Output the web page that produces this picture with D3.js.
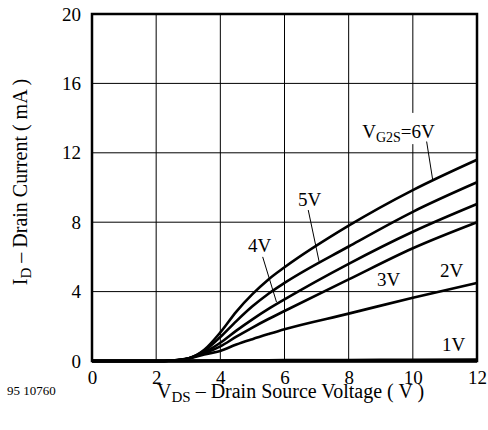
<!DOCTYPE html>
<html lang="en">
<head>
    <meta charset="UTF-8" />
    <title>Drain Current vs Drain Source Voltage</title>
    <style>
        body, html {
            margin: 0;
            padding: 0;
            background-color: white;
        }
    </style>
</head>
<body>
    <svg id="svg" width="488" height="430"></svg>
    <script src="https://cdn.jsdelivr.net/npm/d3@7"></script>
    <script>
        // Data
        const vds = [0, 2, 2.5, 3, 3.5, 4, 4.5, 5, 5.5, 6, 8, 10, 12];
        const id6V = [0, 0, 0.03, 0.15, 0.65, 1.65, 2.85, 3.85, 4.7, 5.4, 7.8, 9.85, 11.6];
        const id5V = [0, 0, 0.03, 0.15, 0.58, 1.38, 2.3, 3.15, 3.88, 4.5, 6.6, 8.6, 10.3];
        const id4V = [0, 0, 0.03, 0.15, 0.5, 1.05, 1.75, 2.4, 3.0, 3.55, 5.6, 7.45, 9.05];
        const id3V = [0, 0, 0.03, 0.15, 0.45, 0.84, 1.4, 1.93, 2.42, 2.88, 4.7, 6.5, 8.0];
        const id2V = [0, 0, 0.03, 0.14, 0.38, 0.58, 0.95, 1.26, 1.55, 1.83, 2.73, 3.65, 4.5];
        const id1V = [0, 0, 0, 0.01, 0.02, 0.03, 0.035, 0.04, 0.045, 0.05, 0.06, 0.07, 0.08];
        const curves = [id6V, id5V, id4V, id3V, id2V, id1V];

        const xTicks = [0, 2, 4, 6, 8, 10, 12];
        const yTicks = [0, 4, 8, 12, 16, 20];

        const FONT = "'Liberation Serif', 'Times New Roman', 'DejaVu Serif', serif";

        // Set dimensions/margins of graph
        const margin = { top: 14, right: 11, bottom: 69, left: 92 };
        const width = 488 - margin.left - margin.right;
        const height = 430 - margin.top - margin.bottom;

        const svg = d3.select("#svg")
            .append("g")
            .attr("transform", `translate(${margin.left},${margin.top})`);

        const xScale = d3.scaleLinear().domain([0, 12]).range([0, width]);
        const yScale = d3.scaleLinear().domain([0, 20]).range([height, 0]);

        // grid
        svg.append("g")
            .selectAll("line")
            .data(xTicks)
            .enter()
            .append("line")
            .attr("x1", d => xScale(d))
            .attr("x2", d => xScale(d))
            .attr("y1", 0)
            .attr("y2", height)
            .attr("stroke", "black")
            .attr("stroke-width", 1);

        svg.append("g")
            .selectAll("line")
            .data(yTicks)
            .enter()
            .append("line")
            .attr("x1", 0)
            .attr("x2", width)
            .attr("y1", d => yScale(d))
            .attr("y2", d => yScale(d))
            .attr("stroke", "black")
            .attr("stroke-width", 1);

        // tick labels
        const xAxis = svg.append("g")
            .attr("transform", `translate(0, ${height})`)
            .call(d3.axisBottom(xScale).tickValues(xTicks).tickSize(0).tickPadding(10).tickFormat(d3.format("d")));
        xAxis.select(".domain").remove();
        xAxis.attr("font-family", FONT).attr("font-size", 19);

        const yAxis = svg.append("g")
            .call(d3.axisLeft(yScale).tickValues(yTicks).tickSize(0).tickPadding(11).tickFormat(d3.format("d")));
        yAxis.select(".domain").remove();
        yAxis.attr("font-family", FONT).attr("font-size", 19);

        // curves
        const line = d3.line()
            .x((d, i) => xScale(vds[i]))
            .y(d => yScale(d))
            .curve(d3.curveMonotoneX);

        svg.append("g")
            .selectAll("path")
            .data(curves)
            .enter()
            .append("path")
            .attr("d", d => line(d))
            .attr("fill", "none")
            .attr("stroke", "black")
            .attr("stroke-width", 2.6);

        // frame
        svg.append("rect")
            .attr("x", 0)
            .attr("y", 0)
            .attr("width", width)
            .attr("height", height)
            .attr("fill", "none")
            .attr("stroke", "black")
            .attr("stroke-width", 2.5);

        svg.append("line")
            .attr("x1", 0)
            .attr("x2", width)
            .attr("y1", height)
            .attr("y2", height)
            .attr("stroke", "black")
            .attr("stroke-width", 3.5);

        // leader lines, in (V, mA)
        const leaders = [
            [10.43, 12.65, 10.62, 10.43],
            [6.74, 8.7, 7.08, 5.72],
            [5.32, 6.0, 5.75, 3.4]
        ];

        // white box behind the VG2S label
        svg.append("rect")
            .attr("x", xScale(8.35))
            .attr("y", yScale(14.3))
            .attr("width", xScale(10.45) - xScale(8.35))
            .attr("height", yScale(12.5) - yScale(14.3))
            .attr("fill", "white");

        svg.append("g")
            .selectAll("line")
            .data(leaders)
            .enter()
            .append("line")
            .attr("x1", d => xScale(d[0]))
            .attr("y1", d => yScale(d[1]))
            .attr("x2", d => xScale(d[2]))
            .attr("y2", d => yScale(d[3]))
            .attr("stroke", "black")
            .attr("stroke-width", 1);

        const g2s = svg.append("text")
            .attr("x", xScale(8.42))
            .attr("y", yScale(12.85))
            .style("font-family", FONT)
            .style("font-size", "19px");
        g2s.append("tspan").text("V");
        g2s.append("tspan").attr("dy", 4).style("font-size", "14px").text("G2S");
        g2s.append("tspan").attr("dy", -4).text("=6V");

        const labels = [
            ["5V", 6.42, 8.93],
            ["4V", 4.86, 6.3],
            ["3V", 8.88, 4.32],
            ["2V", 10.85, 4.86],
            ["1V", 10.91, 0.59]
        ];

        svg.append("g")
            .selectAll("text")
            .data(labels)
            .enter()
            .append("text")
            .attr("x", d => xScale(d[1]))
            .attr("y", d => yScale(d[2]))
            .style("font-family", FONT)
            .style("font-size", "19px")
            .text(d => d[0]);

        // axis titles
        const xTitle = d3.select("#svg").append("text")
            .attr("x", 157)
            .attr("y", 398)
            .style("font-family", FONT)
            .style("font-size", "20px");
        xTitle.append("tspan").text("V");
        xTitle.append("tspan").attr("dy", 4).style("font-size", "15px").text("DS");
        xTitle.append("tspan").attr("dy", -4).text(" \u2013 Drain Source Voltage ( V )");

        const yTitle = d3.select("#svg").append("text")
            .attr("transform", "translate(27, 182) rotate(-90)")
            .attr("text-anchor", "middle")
            .style("font-family", FONT)
            .style("font-size", "20px");
        yTitle.append("tspan").text("I");
        yTitle.append("tspan").attr("dy", 4).style("font-size", "15px").text("D");
        yTitle.append("tspan").attr("dy", -4).text(" \u2013 Drain Current ( mA )");

        d3.select("#svg").append("text")
            .attr("x", 7)
            .attr("y", 395)
            .style("font-family", FONT)
            .style("font-size", "13px")
            .text("95 10760");
    </script>
</body>
</html>
